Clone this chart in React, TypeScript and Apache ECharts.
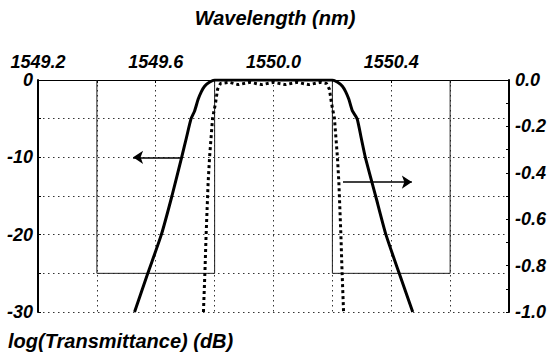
import React, { useEffect, useRef } from "react";
import * as echarts from "echarts";

// Solid curve (left axis, dB)
const solidNm = [
  1549.528, 1549.573, 1549.619, 1549.655, 1549.688, 1549.704, 1549.72, 1549.732, 1549.744,
  1549.755, 1549.766, 1549.782, 1549.8, 1550.0, 1550.2, 1550.218, 1550.234, 1550.245,
  1550.256, 1550.268, 1550.284, 1550.298, 1550.312, 1550.347, 1550.382, 1550.427, 1550.473,
];
const solidDb = [
  -30, -25, -20, -15, -10, -7.5, -5, -4, -2.5, -1.5, -0.8, -0.3, 0, 0, 0, -0.3, -0.8, -1.5,
  -2.5, -4, -5, -7.5, -10, -15, -20, -25, -30,
];

// Dotted curve (right axis)
const dottedNm = [
  1549.762, 1549.767, 1549.771, 1549.778, 1549.783, 1549.793, 1549.803, 1549.81, 1549.82,
  1549.85, 1549.88, 1549.92, 1549.96, 1550.0, 1550.04, 1550.08, 1550.12, 1550.16, 1550.18,
  1550.19, 1550.197, 1550.207, 1550.217, 1550.222, 1550.229, 1550.233, 1550.238,
];
const dottedVal = [
  -1.0, -0.83, -0.67, -0.44, -0.33, -0.165, -0.1, -0.04, -0.015, -0.01, -0.02, -0.01, -0.02,
  -0.01, -0.02, -0.01, -0.02, -0.01, -0.015, -0.04, -0.1, -0.165, -0.33, -0.44, -0.67, -0.83,
  -1.0,
];

// Thin frame outlines (left axis units)
const frameLeftNm = [1549.4, 1549.4, 1549.8, 1549.8];
const frameRightNm = [1550.2, 1550.2, 1550.6, 1550.6];
const frameDb = [0, -25, -25, 0];

// Arrows: [fromNm, toNm, dB]
const arrowLeft = [1549.688, 1549.523, -10];
const arrowRight = [1550.236, 1550.47, -13.2];

const xTitle = "Wavelength (nm)";
const yTitle = "log(Transmittance) (dB)";

const FONT = "Liberation Sans";

const zip = (a: number[], b: number[]) => a.map((v, i) => [v, b[i]]);

export default function App() {
  const ref = useRef<HTMLDivElement>(null);
  useEffect(() => {
    if (!ref.current) return;
    const chart = echarts.init(ref.current, undefined, { renderer: "svg" });
    const labelStyle = {
      fontSize: 18,
      lineHeight: 15,
      fontWeight: "bold" as const,
      fontStyle: "italic" as const,
      fontFamily: FONT,
      color: "#000",
    };
    const grid = { type: [1.5, 3.5], color: "#333", width: 1 };
    const titleStyle = {
      fontSize: 20,
      fontWeight: "bold",
      fontStyle: "italic",
      fontFamily: FONT,
      fill: "#000",
      textVerticalAlign: "middle",
    };
    chart.setOption({
      animation: false,
      backgroundColor: "#fff",
      grid: { left: 38, right: 42, top: 80, bottom: 47 },
      xAxis: {
        type: "value",
        position: "top",
        min: 1549.2,
        max: 1550.8,
        interval: 0.2,
        axisLine: { show: true, onZero: false, lineStyle: { color: "#000", width: 1 } },
        axisTick: { show: true, inside: true, length: 3, lineStyle: { color: "#000" } },
        axisLabel: {
          ...labelStyle,
          margin: 11,
          formatter: (v: number) => {
            const k = Math.round((v - 1549.2) / 0.2);
            return k % 2 === 0 && k < 8 ? v.toFixed(1) : "";
          },
        },
        splitLine: { show: true, lineStyle: grid },
      },
      yAxis: [
        {
          type: "value",
          position: "left",
          min: -30,
          max: 0,
          interval: 5,
          axisLine: { show: true, onZero: false, lineStyle: { color: "#000", width: 2 } },
          axisTick: { show: true, inside: true, length: 3, lineStyle: { color: "#000" } },
          axisLabel: {
            ...labelStyle,
            margin: 5,
            formatter: (v: number) => (Math.round(v) % 10 === 0 ? String(Math.round(v)) : ""),
          },
          splitLine: { show: true, lineStyle: grid },
        },
        {
          type: "value",
          position: "right",
          min: -1,
          max: 0,
          interval: 0.1,
          axisLine: { show: true, onZero: false, lineStyle: { color: "#000", width: 2 } },
          axisTick: { show: true, inside: true, length: 3, lineStyle: { color: "#000" } },
          axisLabel: {
            ...labelStyle,
            margin: 6,
            formatter: (v: number) => {
              const k = Math.round(-v / 0.1);
              return k % 2 === 0 ? (Math.abs(v) < 1e-9 ? "0.0" : v.toFixed(1)) : "";
            },
          },
          splitLine: { show: false },
        },
      ],
      graphic: [
        {
          type: "text",
          x: 275,
          y: 18,
          style: { ...titleStyle, text: xTitle, textAlign: "center" },
        },
        {
          type: "text",
          x: 8,
          y: 341,
          style: { ...titleStyle, text: yTitle, textAlign: "left" },
        },
      ],
      series: [
        {
          type: "line",
          yAxisIndex: 0,
          data: zip(frameLeftNm, frameDb),
          showSymbol: false,
          silent: true,
          lineStyle: { color: "#222", width: 1 },
          markLine: {
            silent: true,
            symbol: ["none", "arrow"],
            symbolSize: 10,
            label: { show: false },
            lineStyle: { color: "#000", width: 1.5, type: "solid" },
            emphasis: { disabled: true },
            data: [
              [{ coord: [arrowLeft[0], arrowLeft[2]] }, { coord: [arrowLeft[1], arrowLeft[2]] }],
              [{ coord: [arrowRight[0], arrowRight[2]] }, { coord: [arrowRight[1], arrowRight[2]] }],
            ],
          },
        },
        {
          type: "line",
          yAxisIndex: 0,
          data: zip(frameRightNm, frameDb),
          showSymbol: false,
          silent: true,
          lineStyle: { color: "#222", width: 1 },
        },
        {
          type: "line",
          yAxisIndex: 0,
          data: zip(solidNm, solidDb),
          showSymbol: false,
          smooth: 0.2,
          lineStyle: { color: "#000", width: 3 },
        },
        {
          type: "line",
          yAxisIndex: 1,
          data: zip(dottedNm, dottedVal),
          showSymbol: false,
          lineStyle: { color: "#000", width: 3, type: [3, 3] },
        },
      ],
    });
    return () => chart.dispose();
  }, []);
  return (
    <div
      ref={ref}
      style={{ position: "fixed", left: 0, top: 0, width: 551, height: 359, background: "#fff" }}
    />
  );
}
